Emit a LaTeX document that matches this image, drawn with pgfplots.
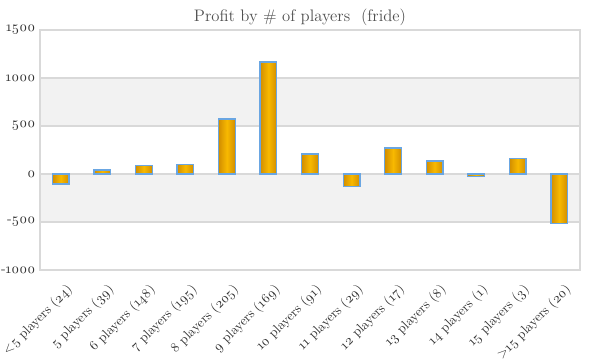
\documentclass[border=0pt]{standalone}
\usepackage{fontspec}
\setmainfont{Latin Modern Roman}[Numbers=OldStyle]
\usepackage{pgfplots}
\pgfplotsset{compat=1.18}
\definecolor{gridc}{HTML}{D9D9D9}
\definecolor{bandc}{HTML}{F2F2F2}
\definecolor{txt}{HTML}{333333}
\definecolor{ttl}{HTML}{505050}
\definecolor{barline}{HTML}{6AA6E2}
\definecolor{bardark}{HTML}{D28E00}
\definecolor{barlight}{HTML}{F8B900}
\pgfplotsset{gbar/.style={draw=barline, line width=1pt, left color=bardark, right color=bardark, middle color=barlight, bar shift=0pt}}
\begin{document}
\begin{tikzpicture}[x=1pt,y=1pt]
\node[font=\fontsize{12.5}{14}\selectfont, text=ttl] at (225,257) {Profit by \# of players\ \ (fride)};
\begin{axis}[
  at={(30pt,67.5pt)}, anchor=south west,
  width=405pt, height=180pt, scale only axis,
  set layers=standard,
  xmin=-0.5, xmax=12.5,
  ymin=-1000, ymax=1500,
  ytick={-1000,-500,0,500,1000,1500},
  xtick={0,...,12},
  xticklabels={{<5 players (24)},{5 players (39)},{6 players (148)},{7 players (195)},{8 players (205)},{9 players (169)},{10 players (91)},{11 players (29)},{12 players (17)},{13 players (8)},{14 players (1)},{15 players (3)},{>15 players (20)}},
  xticklabel style={rotate=45, anchor=north east, font=\fontsize{10}{12}\selectfont, text=txt, xshift=-1pt, yshift=-6pt},
  yticklabel style={font=\fontsize{10.5}{12}\selectfont, text=txt},
  /pgf/number format/assume math mode=true,
  /pgf/number format/1000 sep={},
  major tick length=0pt,
  ymajorgrids, grid style={gridc, line width=0.8pt},
  axis line style={gridc, line width=0.8pt},
  ybar, bar width=12.5pt,
]
\begin{pgfonlayer}{axis background}
\fill[bandc] (axis cs:-0.5,500) rectangle (axis cs:12.5,1000);
\fill[bandc] (axis cs:-0.5,-500) rectangle (axis cs:12.5,0);
\end{pgfonlayer}
\addplot[gbar] coordinates {(0,-105)};
\addplot[gbar] coordinates {(1,40)};
\addplot[gbar] coordinates {(2,86)};
\addplot[gbar] coordinates {(3,100)};
\addplot[gbar] coordinates {(4,573)};
\addplot[gbar] coordinates {(5,1167)};
\addplot[gbar] coordinates {(6,208)};
\addplot[gbar] coordinates {(7,-128)};
\addplot[gbar] coordinates {(8,271)};
\addplot[gbar] coordinates {(9,135)};
\addplot[gbar] coordinates {(10,-25)};
\addplot[gbar] coordinates {(11,163)};
\addplot[gbar] coordinates {(12,-514)};
\end{axis}
\pgfresetboundingbox
\useasboundingbox (0,0) rectangle (450,270);
\end{tikzpicture}
\end{document}
